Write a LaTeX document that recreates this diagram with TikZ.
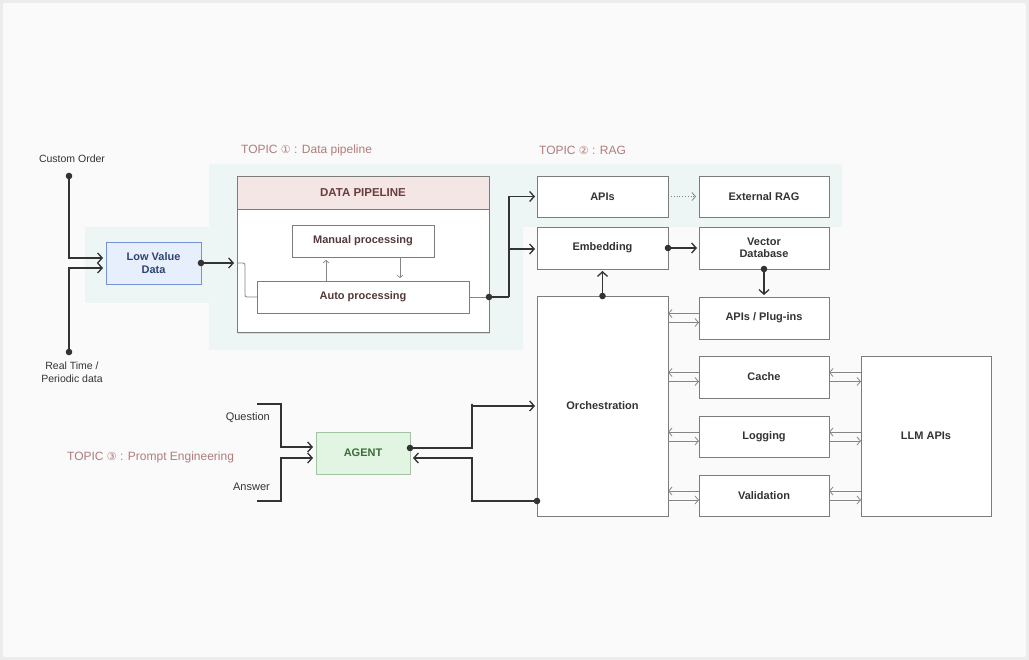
\documentclass[tikz,border=0pt]{standalone}
\usepackage{fontspec}
\setmainfont{Liberation Sans}
\newfontfamily\symfont{DejaVu Sans}
\usepackage{xcolor}
\usepackage{tikz}
\usetikzlibrary{arrows.meta,positioning,shadows}

\definecolor{framegray}{HTML}{ECECEC}
\definecolor{canvas}{HTML}{FAFAFA}
\definecolor{tealbg}{HTML}{EDF6F4}
\definecolor{boxline}{HTML}{7C7C7C}
\definecolor{inkdark}{HTML}{333333}
\definecolor{wiregray}{HTML}{858585}
\definecolor{topicrose}{HTML}{B07C7C}
\definecolor{pinkhead}{HTML}{F5E6E6}
\definecolor{maroon}{HTML}{6B3C3C}
\definecolor{procink}{HTML}{523A3A}
\definecolor{lowblue}{HTML}{E8EFFC}
\definecolor{lowblueline}{HTML}{7492D8}
\definecolor{navy}{HTML}{2F4472}
\definecolor{agentgreen}{HTML}{E2F5E2}
\definecolor{agentline}{HTML}{A3C3A3}
\definecolor{agentink}{HTML}{3E6A3E}

\newcommand{\circnum}[1]{{\symfont\fontsize{11}{11}\selectfont #1}}

\tikzset{
  plainblock/.style={draw=boxline, fill=white, line width=0.8pt, inner sep=0pt, outer sep=0pt,
    align=center, text=inkdark, font=\bfseries\fontsize{11}{12.5}\selectfont},
  block/.style={plainblock, drop shadow={opacity=0.12, shadow xshift=0.6pt, shadow yshift=-1.2pt}},
  plaintext/.style={inner sep=0pt, text=inkdark, font=\fontsize{10.5}{12.5}\selectfont, align=center},
  topic/.style={inner sep=0pt, anchor=west, text=topicrose, font=\fontsize{12}{14}\selectfont},
  flow/.style={draw=inkdark, line width=1.4pt, -{Straight Barb[length=4.5pt,width=10pt,line width=1.3pt]}},
  flowline/.style={draw=inkdark, line width=1.4pt},
  wire/.style={draw=wiregray, line width=0.8pt},
  wirearrow/.style={wire, -{Straight Barb[length=3.5pt,width=8pt,line width=0.8pt]}},
  tinyarrow/.style={wire, -{Straight Barb[length=2.5pt,width=6pt,line width=0.7pt]}},
  dotarrow/.style={wire, dotted, -{Straight Barb[length=3.5pt,width=8pt,line width=0.8pt]}},
  junction/.style={fill=inkdark}
}

\begin{document}
\begin{tikzpicture}[x=1pt, y=-1pt]
  % canvas and frame
  \useasboundingbox (0,0) rectangle (1029,660);
  \fill[framegray] (0,0) rectangle (1029,660);
  \fill[canvas, rounded corners=2pt] (3,3) rectangle (1026,657);

  % topic background
  \fill[tealbg] (85,227) -- (209,227) -- (209,164) -- (842,164) -- (842,227) -- (523,227)
    -- (523,350) -- (209,350) -- (209,303) -- (85,303) -- cycle;

  % topic labels
  \node[topic] (topicpipe) at (241,150) {TOPIC \circnum{①} : Data pipeline};
  \node[topic] (topicrag) at (539,150) {TOPIC \circnum{②} : RAG};
  \node[topic] (topicprompt) at (67,457) {TOPIC \circnum{③} : Prompt Engineering};

  % data sources
  \coordinate (cust) at (69,176);
  \coordinate (realt) at (69,352);
  \node[plaintext] (custlbl) at (72,159) {Custom Order};
  \node[plaintext] (realtlbl) at (72,372) {Real Time /\\Periodic data};

  \node[block, fill=lowblue, draw=lowblueline, text=navy, minimum width=95pt, minimum height=42pt]
    (lowval) at (153.5,263) {Low Value\\Data};

  \draw[flow, shorten >=3pt] (cust) |- ([yshift=5pt]lowval.west);
  \draw[flow, shorten >=3pt] (realt) |- ([yshift=-5pt]lowval.west);
  \fill[junction] (cust) circle (3.3pt);
  \fill[junction] (realt) circle (3.3pt);

  % data pipeline
  \node[block, minimum width=252pt, minimum height=156pt,
    drop shadow={opacity=0.22, shadow xshift=1pt, shadow yshift=-2pt}] (pipe) at (363,254) {};
  \node[plainblock, fill=pinkhead, text=maroon, minimum width=252pt, minimum height=33pt,
    font=\bfseries\fontsize{11.5}{13}\selectfont] (pipehead) at (363,192.5) {DATA PIPELINE};
  \node[block, text=procink, minimum width=142pt, minimum height=32pt] (manual) at (363,241) {Manual processing};
  \node[block, text=procink, minimum width=212pt, minimum height=32pt] (auto) at (363,297) {Auto processing};

  \coordinate (pipein) at (pipe.west |- lowval.east);
  \coordinate (pipeout) at (pipe.east |- auto.east);
  \draw[flow, shorten >=3pt] (lowval.east) -- (pipein);
  \fill[junction] (lowval.east) circle (3.3pt);
  \draw[wire, rounded corners=2pt] (pipein) -- ++(8,0) |- (auto.west);
  \draw[tinyarrow, shorten >=3pt] ([xshift=-37pt]auto.north) -- ([xshift=-37pt]manual.south);
  \draw[tinyarrow, shorten >=3pt] ([xshift=37pt]manual.south) -- ([xshift=37pt]auto.north);
  \draw[wire] (auto.east) -- (pipeout);

  % RAG
  \node[block, minimum width=131pt, minimum height=41pt] (apis) at (602.5,196.5) {APIs};
  \node[block, minimum width=130pt, minimum height=41pt] (extrag) at (764,196.5) {External RAG};
  \node[block, minimum width=131pt, minimum height=42pt] (embed) at (602.5,248) {Embedding};
  \node[block, minimum width=130pt, minimum height=42pt] (vecdb) at (764,248) {Vector\\Database};

  \coordinate (split) at (509,297);
  \draw[flowline] (pipeout) -- (split);
  \draw[flow, shorten >=2pt] (split) |- (apis.west);
  \draw[flow, shorten >=2pt] (split) |- ([yshift=-1pt]embed.west);
  \fill[junction] (pipeout) circle (3.3pt);
  \draw[dotarrow, shorten <=3pt, shorten >=3pt] (apis.east) -- (extrag.west);
  \draw[flow, shorten >=2pt] (embed.east) -- (vecdb.west);
  \fill[junction] (embed.east) circle (3.3pt);

  % orchestration and services
  \node[block, minimum width=131pt, minimum height=220pt] (orch) at (602.5,406) {Orchestration};
  \node[block, minimum width=130pt, minimum height=42pt] (plugins) at (764,318) {APIs / Plug-ins};
  \node[block, minimum width=130pt, minimum height=42pt] (cache) at (764,377) {Cache};
  \node[block, minimum width=130pt, minimum height=41pt] (logging) at (764,436.5) {Logging};
  \node[block, minimum width=130pt, minimum height=41pt] (valid) at (764,495.5) {Validation};
  \node[block, minimum width=130pt, minimum height=160pt] (llm) at (926,436) {LLM APIs};

  \draw[flow, shorten >=2pt] (vecdb.south) -- (plugins.north);
  \fill[junction] (vecdb.south) circle (3.3pt);
  \draw[flow, shorten >=2pt] (orch.north) -- (embed.south);
  \fill[junction] (orch.north) circle (3.3pt);

  \foreach \svc in {plugins,cache,logging,valid}{
    \draw[wirearrow] ([yshift=4.5pt]\svc.west) -- ([yshift=4.5pt]\svc.west -| orch.east);
    \draw[wirearrow] ([yshift=-4.5pt]\svc.west -| orch.east) -- ([yshift=-4.5pt]\svc.west);
  }
  \foreach \svc in {cache,logging,valid}{
    \draw[wirearrow] ([yshift=4.5pt]\svc.east -| llm.west) -- ([yshift=4.5pt]\svc.east);
    \draw[wirearrow] ([yshift=-4.5pt]\svc.east) -- ([yshift=-4.5pt]\svc.east -| llm.west);
  }

  % prompt engineering
  \node[block, fill=agentgreen, draw=agentline, text=agentink, minimum width=94pt, minimum height=42pt]
    (agent) at (363,453) {AGENT};
  \node[plaintext, anchor=east, font=\fontsize{11}{13}\selectfont] (qlbl) at (270,418) {Question};
  \node[plaintext, anchor=east, font=\fontsize{11}{13}\selectfont] (albl) at (270,487) {Answer};

  \coordinate (qin) at (257,404);
  \coordinate (ain) at (257,501);
  \coordinate (qbus) at (281,404);
  \coordinate (obus) at (472,404);
  \coordinate (orchret) at ([yshift=-95pt]orch.west);
  \draw[flow, shorten >=3pt] (qin) -- (qbus) |- ([yshift=6pt]agent.west);
  \draw[flow, shorten >=3pt] (ain) -| (qbus |- ain) |- ([yshift=-5pt]agent.west);
  \draw[flow, shorten >=2pt] ([yshift=5pt]agent.east) -| (obus) |- (orch.west);
  \draw[flow, shorten >=3pt] (orchret) -| (obus |- orchret) |- ([yshift=-5pt]agent.east);
  \fill[junction] ([yshift=5pt]agent.east) circle (3.3pt);
  \fill[junction] (orchret) circle (3.3pt);
\end{tikzpicture}
\end{document}
